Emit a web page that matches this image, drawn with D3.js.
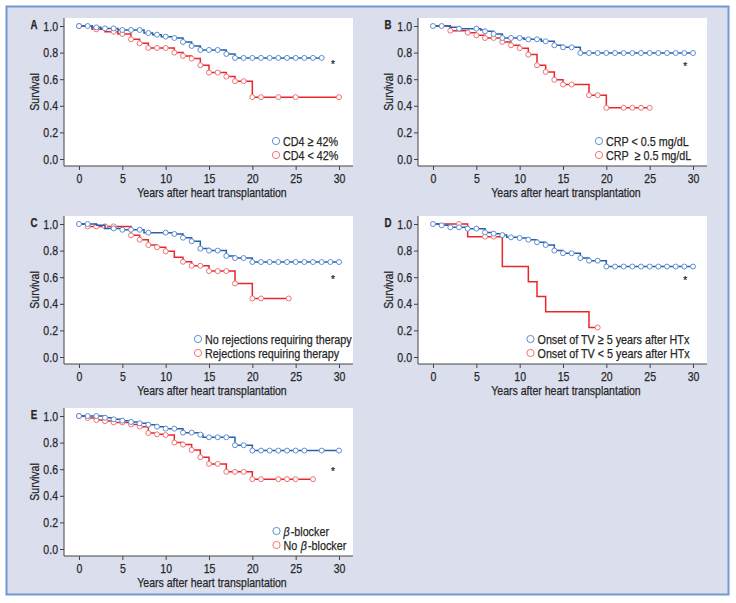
<!DOCTYPE html>
<html><head><meta charset="utf-8">
<script src="https://cdn.jsdelivr.net/npm/d3@7"></script>
<style>
body{margin:0;background:#fff}
text{font-family:'Liberation Sans',Arial,sans-serif;fill:#262626;stroke:#262626;stroke-width:0.25px}
</style>
</head><body><svg id="c" width="736" height="603"></svg>
<script>
// ---------- DATA ----------
const xTicks = [0, 5, 10, 15, 20, 25, 30];
const yTicks = [0, 0.2, 0.4, 0.6, 0.8, 1.0];
const panelLetters = ["A", "B", "C", "D", "E"];
const xTitle = "Years after heart transplantation";
const yTitle = "Survival";
const legendBlue = ["CD4 \u2265 42%", "CRP \u003c 0.5 mg/dL", "No rejections requiring therapy", "Onset of TV \u2265 5 years after HTx", "\u03b2-blocker"];
const legendRed  = ["CD4 \u003c 42%", "CRP \u00a0\u2265 0.5 mg/dL", "Rejections requiring therapy", "Onset of TV \u003c 5 years after HTx", "No \u03b2-blocker"];

// Panel A
const blueTimesA = [1.5, 2.5, 4.5, 7.5, 8.5, 9.5, 11, 12, 13, 14, 17, 18];
const blueSurvA  = [0.99, 0.982, 0.97, 0.947, 0.935, 0.92, 0.91, 0.88, 0.85, 0.82, 0.79, 0.76];
const blueCensA  = [0,1,2,3,4,5,6,7,8,9,10,11,12,13,14,15,16,17,18,19,20,21,22,23,24,25,26,27,28];
const blueEndA   = 28;
const redTimesA  = [1.5, 3, 4.5, 6, 7, 8, 11, 12, 13, 14, 15, 17, 18, 20];
const redSurvA   = [0.975, 0.957, 0.94, 0.9, 0.87, 0.835, 0.8, 0.775, 0.755, 0.705, 0.65, 0.62, 0.585, 0.465];
const redCensA   = [0,2,4,5,6,7,8,9,10,11,12,13,14,15,16,17,18,19,20,21,23,25,30];
const redEndA    = 30;
// Panel B
const blueTimesB = [2, 3, 5.5, 6, 7, 8, 10.5, 12.5, 14, 15, 17];
const blueSurvB  = [0.99, 0.98, 0.97, 0.96, 0.94, 0.91, 0.9, 0.885, 0.855, 0.84, 0.797];
const blueCensB  = [0,1,3,5,6,7,8,9,10,11,12,13,14,15,16,17,18,19,20,21,22,23,24,25,26,27,28,29,30];
const blueEndB   = 30;
const redTimesB  = [2, 4, 5, 6, 8, 9, 10, 11, 12, 13, 14, 15, 18, 20];
const redSurvB   = [0.965, 0.95, 0.93, 0.91, 0.88, 0.855, 0.833, 0.785, 0.705, 0.655, 0.595, 0.56, 0.48, 0.385];
const redCensB   = [2,4,5,6,7,8,9,10,11,12,13,14,15,16,18,19,20,22,23,24,25];
const redEndB    = 25;
// Panel C
const blueTimesC = [2, 3, 5, 7.5, 11, 12, 13, 14, 15, 17, 18, 20];
const blueSurvC  = [0.99, 0.967, 0.957, 0.935, 0.925, 0.897, 0.87, 0.815, 0.8, 0.76, 0.744, 0.714];
const blueCensC  = [0,1,4,5,6,7,8,10,11,12,13,14,15,16,17,18,19,20,21,22,23,24,25,26,27,28,29,30];
const blueEndC   = 30;
const redTimesC  = [1, 6, 7, 8, 9, 10, 11, 12, 13, 15, 18, 20];
const redSurvC   = [0.982, 0.915, 0.882, 0.842, 0.825, 0.795, 0.75, 0.716, 0.686, 0.646, 0.553, 0.44];
const redCensC   = [1,2,3,4,6,7,8,9,10,12,13,14,15,16,17,18,20,21,24.2];
const redEndC    = 24.2;
// Panel D
const blueTimesD = [1, 2, 4, 6, 7, 8, 8.5, 10, 11, 12, 13, 14, 15, 17, 18, 20];
const blueSurvD  = [0.99, 0.975, 0.965, 0.937, 0.927, 0.917, 0.9, 0.895, 0.882, 0.862, 0.842, 0.8, 0.78, 0.744, 0.724, 0.68];
const blueCensD  = [0,1,2,3,4,5,6,7,8,9,10,11,12,13,14,15,16,17,18,19,20,21,22,23,24,25,26,27,28,29,30];
const blueEndD   = 30;
const redTimesD  = [4, 8, 11, 12, 13, 18];
const redSurvD   = [0.905, 0.68, 0.565, 0.455, 0.34, 0.222];
const redCensD   = [3, 6, 7, 19];
const redEndD    = 19;
// Panel E
const blueTimesE = [3, 4, 5, 6, 7, 8, 9, 10, 12, 14, 14.3, 18, 20];
const blueSurvE  = [0.987, 0.975, 0.965, 0.955, 0.945, 0.935, 0.92, 0.905, 0.875, 0.86, 0.84, 0.78, 0.74];
const blueCensE  = [0,1,2,3,4,5,6,7,8,9,10,11,12,13,14,15,16,17,18,19,20,21,22,23,24,25,26,28,30];
const blueEndE   = 30;
const redTimesE  = [1, 2, 3, 4, 6, 7, 8, 9, 10, 11, 12, 13, 14, 15, 17, 20];
const redSurvE   = [0.985, 0.97, 0.962, 0.952, 0.937, 0.92, 0.872, 0.862, 0.857, 0.8, 0.785, 0.745, 0.69, 0.64, 0.58, 0.525];
const redCensE   = [0,1,2,3,4,5,6,7,8,9,10,11,12,13,14,15,16,17,18,19,20,21,23,24,25,27];
const redEndE    = 27;

// significance asterisks (data units)
const asteriskX = [29.3, 29.1, 29.3, 29.1, 29.3];
const asteriskY = [0.72, 0.71, 0.595, 0.59, 0.593];

// ---------- LAYOUT / STYLE ----------
const panelPos = [[64, 18], [418, 18], [64, 216], [418, 216], [64, 408]];
const legendOff = [212, 181, 134, 112.5, 212.5];
const W = 289, H = 148;
const BLUE_LINE = "#2c5ea8", BLUE_PT = "#5d90d2", RED_LINE = "#e8262b", RED_PT = "#f07474";
const CONDENSE = 0.81;

const curves = [
  {b:[blueTimesA, blueSurvA, blueCensA, blueEndA], r:[redTimesA, redSurvA, redCensA, redEndA]},
  {b:[blueTimesB, blueSurvB, blueCensB, blueEndB], r:[redTimesB, redSurvB, redCensB, redEndB]},
  {b:[blueTimesC, blueSurvC, blueCensC, blueEndC], r:[redTimesC, redSurvC, redCensC, redEndC]},
  {b:[blueTimesD, blueSurvD, blueCensD, blueEndD], r:[redTimesD, redSurvD, redCensD, redEndD]},
  {b:[blueTimesE, blueSurvE, blueCensE, blueEndE], r:[redTimesE, redSurvE, redCensE, redEndE]},
];

const svg = d3.select("#c");
svg.append("rect").attr("x", 6.5).attr("y", 6.5).attr("width", 722).attr("height", 588)
  .attr("fill", "#dadeed").attr("stroke", "#7398cf").attr("stroke-width", 2);

function survAt(times, surv, t) {
  let s = 1;
  for (let i = 0; i < times.length; i++) if (times[i] <= t) s = surv[i];
  return s;
}
function condense(el) {
  const L = el.node().getComputedTextLength();
  el.attr("textLength", L * CONDENSE).attr("lengthAdjust", "spacingAndGlyphs");
  return L * CONDENSE;
}

curves.forEach((cv, i) => {
  const [px, py] = panelPos[i];
  const g = svg.append("g");
  const x = d3.scaleLinear().domain([0, 30]).range([px + 15, px + 275]);
  const y = d3.scaleLinear().domain([0, 1]).range([py + 141, py + 8]);

  g.append("rect").attr("x", px).attr("y", py).attr("width", W).attr("height", H).attr("fill", "#fff");

  // axes
  const ax = g.append("g").attr("transform", `translate(0,${py + H})`)
    .call(d3.axisBottom(x).tickValues(xTicks).tickSize(4).tickPadding(3.5).tickFormat(d3.format("d")));
  const ay = g.append("g").attr("transform", `translate(${px},0)`)
    .call(d3.axisLeft(y).tickValues(yTicks).tickSize(4).tickPadding(2).tickFormat(d3.format(".1f")));
  [ax, ay].forEach(a => {
    a.select(".domain").remove();
    a.selectAll("line").attr("stroke", "#444");
    a.selectAll("text").style("font-size", "13px").attr("fill", "#262626");
  });
  g.append("path").attr("d", `M${px},${py}V${py + H}H${px + W}`).attr("fill", "none").attr("stroke", "#444").attr("stroke-width", 1);

  g.append("text").attr("x", px + 148).attr("y", py + 178.5).attr("text-anchor", "middle")
    .style("font-size", "13px").text(xTitle);
  g.append("text").attr("transform", `translate(${px - 25},${py + H / 2}) rotate(-90)`).attr("text-anchor", "middle")
    .style("font-size", "13px").text(yTitle);
  g.append("text").attr("x", px - 30).attr("y", py + 11).attr("text-anchor", "middle")
    .style("font-size", "12px").style("font-weight", "bold").text(panelLetters[i]);

  const line = d3.line().x(d => x(d[0])).y(d => y(d[1])).curve(d3.curveStepAfter);
  [[cv.r, RED_LINE, RED_PT], [cv.b, BLUE_LINE, BLUE_PT]].forEach(([c, lc, pc]) => {
    const [times, surv, cens, end] = c;
    const pts = [[0, 1]].concat(times.map((t, k) => [t, surv[k]]));
    pts.push([end, surv[surv.length - 1]]);
    g.append("path").attr("d", line(pts)).attr("fill", "none").attr("stroke", lc).attr("stroke-width", 1.5);
    g.selectAll(null).data(cens).enter().append("circle")
      .attr("cx", t => x(t)).attr("cy", t => y(survAt(times, surv, t))).attr("r", 2.5)
      .attr("fill", "#fff").attr("stroke", pc).attr("stroke-width", 1);
  });

  g.append("text").attr("class", "done").attr("x", x(asteriskX[i])).attr("y", y(asteriskY[i]) + 5).attr("text-anchor", "middle")
    .style("font-size", "10px").text("*");

  // legend
  const lx = px + legendOff[i];
  [[legendBlue[i], BLUE_PT], [legendRed[i], RED_PT]].forEach(([lab, col], k) => {
    const cy = py + 123 + k * 14;
    g.append("circle").attr("cx", lx).attr("cy", cy).attr("r", 3.6).attr("fill", "#fff").attr("stroke", col).attr("stroke-width", 1);
    if (lab.includes("\u03b2")) {
      // pieces laid out one after another, beta in italic
      const parts = lab.split("\u03b2");
      const pieces = [[parts[0].trimEnd(), false], ["\u03b2", true], [parts[1], false]].filter(p => p[0]);
      let cx = lx + 7;
      pieces.forEach(([s, it], j) => {
        const t = g.append("text").attr("class", "done").attr("x", cx).attr("y", cy + 4.6)
          .style("font-size", "13.3px").style("font-style", it ? "italic" : "normal").text(s);
        cx += condense(t) + (j === 0 && pieces.length === 3 ? 3.5 : (it ? 1 : 0));
      });
    } else {
      g.append("text").attr("x", lx + 7).attr("y", cy + 4.6).style("font-size", "13.3px").style("white-space", "pre").text(lab);
    }
  });
});

// emulate the condensed typeface of the original
svg.selectAll("text:not(.done)").each(function () { condense(d3.select(this)); });
</script>
</body></html>
